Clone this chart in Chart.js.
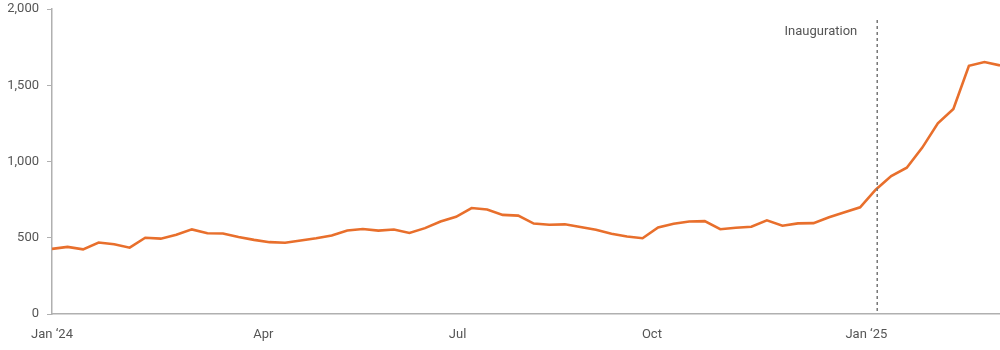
<!DOCTYPE html>
<html>
<head>
<meta charset="utf-8">
<script src="https://cdn.jsdelivr.net/npm/chart.js@4.4.1/dist/chart.umd.min.js"></script>
<style>
  html, body { margin: 0; padding: 0; background: #fff; }
  #wrap { width: 1000px; height: 350px; position: relative; }
</style>
</head>
<body>
<div id="wrap"><canvas id="weeklyChart"></canvas></div>
<script>
  "use strict";

  // weekly values, Jan '24 to mid-Mar '25
  var weeklyValues = [
    427, 440, 424, 469, 457, 435, 500, 494, 520, 555,
    530, 528, 505, 486, 471, 467, 482, 497, 515, 548,
    557, 547, 554, 531, 563, 607, 637, 695, 685, 650,
    645, 593, 585, 588, 570, 552, 526, 508, 497, 568,
    592, 607, 609, 556, 566, 572, 614, 579, 594, 596,
    634, 667, 700, 815, 904, 959, 1091, 1250, 1344, 1628,
    1652, 1630
  ];
  var tickLabels = ["Jan \u201824", "Apr", "Jul", "Oct", "Jan \u201825"];
  var tickWeeks = [0, 13.6, 26.1, 38.6, 52.4];
  var yTicks = [0, 500, 1000, 1500, 2000];
  var markerWeek = 53.1;
  var markerLabel = "Inauguration";

  var fontFamily = "Roboto, 'Liberation Sans', sans-serif";
  var textColor = '#555';
  var axisColor = '#b0b0b0';

  var markerPlugin = {
    id: 'markerLine',
    afterDatasetsDraw: function (chart) {
      var ctx = chart.ctx, x = chart.scales.x.getPixelForValue(markerWeek);
      var bottom = chart.chartArea.bottom;
      ctx.save();
      ctx.strokeStyle = '#777';
      ctx.lineWidth = 1.5;
      ctx.setLineDash([3, 3]);
      ctx.beginPath();
      ctx.moveTo(x, 20);
      ctx.lineTo(x, bottom);
      ctx.stroke();
      ctx.setLineDash([]);
      ctx.fillStyle = textColor;
      ctx.font = '13px ' + fontFamily;
      ctx.textAlign = 'right';
      ctx.textBaseline = 'middle';
      ctx.fillText(markerLabel, x - 20, 32);
      ctx.restore();
    }
  };

  var selectCanvas = document.getElementById('weeklyChart').getContext('2d');
  var chart = new Chart(selectCanvas, {
    type: 'line',
    data: {
      datasets: [{
        data: weeklyValues.map(function (v, i) { return { x: i, y: v }; }),
        borderColor: '#E86F2C',
        borderWidth: 2.6,
        pointRadius: 0,
        tension: 0,
        fill: false
      }]
    },
    options: {
      responsive: true,
      maintainAspectRatio: false,
      animation: false,
      layout: { padding: { top: 9, right: 0, left: 0, bottom: 0 } },
      plugins: {
        legend: { display: false },
        tooltip: { enabled: false }
      },
      scales: {
        x: {
          type: 'linear',
          min: 0,
          max: weeklyValues.length - 1,
          afterBuildTicks: function (axis) {
            axis.ticks = tickWeeks.map(function (w) { return { value: w }; });
          },
          afterFit: function (scale) {
            scale.height = 36;
            scale.paddingLeft = 0;
            scale.paddingRight = 0;
          },
          grid: { display: false, drawTicks: false },
          border: { display: true, color: axisColor, width: 1.5 },
          ticks: {
            autoSkip: false,
            maxRotation: 0,
            padding: 13,
            color: textColor,
            font: { family: fontFamily, size: 13 },
            callback: function (value, index) { return tickLabels[index]; }
          }
        },
        y: {
          min: 0,
          max: 2000,
          afterBuildTicks: function (axis) {
            axis.ticks = yTicks.map(function (v) { return { value: v }; });
          },
          afterFit: function (scale) {
            scale.width = 52;
            scale.paddingTop = 0;
            scale.paddingBottom = 0;
          },
          grid: { drawOnChartArea: false, drawTicks: true, tickLength: 5, color: axisColor },
          border: { display: true, color: axisColor, width: 1.5 },
          ticks: {
            padding: 8,
            color: textColor,
            font: { family: fontFamily, size: 13 },
            callback: function (value) { return value.toLocaleString('en-US'); }
          }
        }
      }
    },
    plugins: [markerPlugin]
  });
</script>
</body>
</html>
